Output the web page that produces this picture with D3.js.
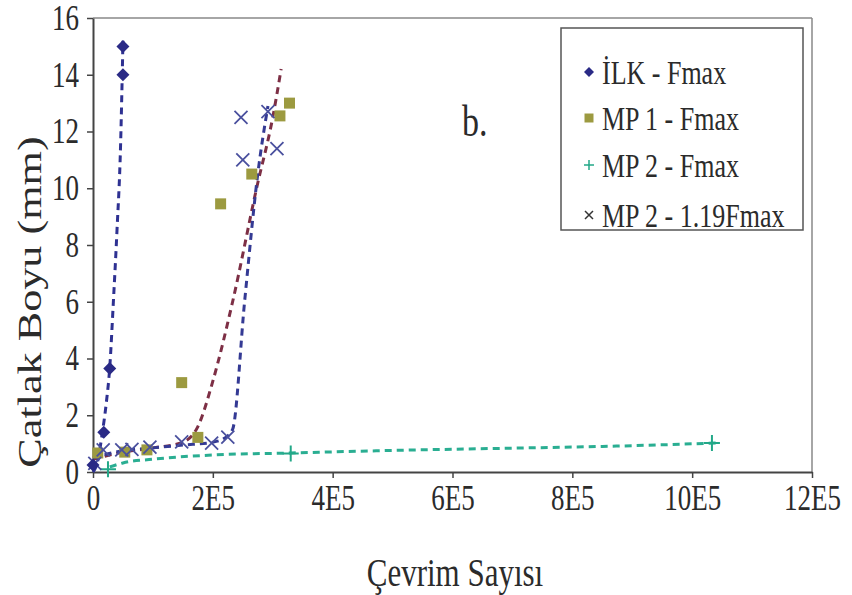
<!DOCTYPE html>
<html>
<head>
<meta charset="utf-8">
<style>
  body { margin: 0; background: #fff; }
  text { font-family: "Liberation Serif", "Times New Roman", serif; fill: #2b2b2b; }
  .st { transform-box: fill-box; transform-origin: center; transform: scaleY(1.3); }
</style>
</head>
<body>
<div id="chart"></div>
<script src="https://d3js.org/d3.v7.min.js"></script>
<script>
// data (x = cycles, y = crack length mm)
var ilkX = [0, 1.8e4, 2.8e4, 5.0e4, 5.0e4];
var ilkY = [0.25, 1.4, 3.65, 14.0, 15.0];

var mp1X = [0.8e4, 5.3e4, 9.0e4, 1.48e5, 1.75e5, 2.13e5, 2.65e5, 3.12e5, 3.28e5];
var mp1Y = [0.67, 0.7, 0.78, 3.15, 1.22, 9.45, 10.5, 12.55, 13.0];

var mp2X = [2.5e4, 3.3e5, 10.33e5];
var mp2Y = [0.1, 0.65, 1.02];

var mp2bX = [0.3e4, 1.7e4, 4.8e4, 6.5e4, 9.5e4, 1.48e5, 1.98e5, 2.25e5, 2.47e5, 2.5e5, 2.92e5, 3.07e5];
var mp2bY = [0.3, 0.78, 0.78, 0.8, 0.88, 1.06, 1.02, 1.23, 12.5, 11.0, 12.7, 11.4];

// trend lines (also)
var ilkTrendX = [0, 0.8e4, 1.5e4, 2.2e4, 2.8e4, 3.4e4, 4.0e4, 4.6e4, 5.0e4];
var ilkTrendY = [0, 0.4, 1.3, 2.4, 3.7, 6.0, 8.5, 11.5, 15.2];
var mp1TrendX = [0, 5e4, 1e5, 1.5e5, 1.75e5, 2.0e5, 2.33e5, 2.73e5, 3.0e5, 3.14e5];
var mp1TrendY = [0.45, 0.7, 0.85, 1.05, 1.6, 3.2, 6.0, 10.0, 12.5, 14.2];
var mp2TrendX = [2.8e4, 5e4, 1e5, 2e5, 3.3e5, 5e5, 7e5, 8.5e5, 10.4e5];
var mp2TrendY = [0.18, 0.32, 0.45, 0.6, 0.67, 0.76, 0.84, 0.9, 1.02];
var mp2bTrendX = [0, 5e4, 1e5, 1.5e5, 2.0e5, 2.2e5, 2.33e5, 2.53e5, 2.75e5, 2.92e5];
var mp2bTrendY = [0.5, 0.75, 0.85, 0.95, 1.05, 1.2, 1.5, 6.0, 10.5, 12.9];

var xTicks = [0, 2e5, 4e5, 6e5, 8e5, 10e5, 12e5];
var xTickLabels = ["0", "2E5", "4E5", "6E5", "8E5", "10E5", "12E5"];
var yTicks = [0, 2, 4, 6, 8, 10, 12, 14, 16];
var legendNames = ["İLK - Fmax", "MP 1 - Fmax", "MP 2 - Fmax", "MP 2 - 1.19Fmax"];

var W = 852, H = 595;
var margin = {top: 18, right: 40, bottom: 123, left: 93};
var width = W - margin.left - margin.right;
var height = H - margin.top - margin.bottom;

var svg = d3.select("#chart").append("svg")
    .attr("width", W)
    .attr("height", H);
var g = svg.append("g").attr("transform", "translate(" + margin.left + "," + margin.top + ")");

var x = d3.scaleLinear().domain([0, 12e5]).range([0, width]);
var y = d3.scaleLinear().domain([0, 16]).range([height, 0]);

function zip(xs, ys) { return xs.map(function(v, i) { return [v, ys[i]]; }); }

// frame (top + right, grey)
g.append("line").attr("x1", 0).attr("x2", width).attr("y1", 0).attr("y2", 0)
    .attr("stroke", "#888").attr("stroke-width", 1.5);
g.append("line").attr("x1", width).attr("x2", width).attr("y1", 0).attr("y2", height)
    .attr("stroke", "#888").attr("stroke-width", 1.5);

// axes
var xAxis = g.append("g")
    .attr("transform", "translate(0," + height + ")")
    .call(d3.axisBottom(x).tickValues(xTicks).tickFormat(function(d, i) { return xTickLabels[i]; })
      .tickSize(6).tickSizeOuter(0).tickPadding(10));
var yAxis = g.append("g")
    .call(d3.axisLeft(y).tickValues(yTicks).tickSize(6).tickSizeOuter(0).tickPadding(8));

[xAxis, yAxis].forEach(function(a) {
  a.attr("font-family", null);
  a.select(".domain").attr("stroke", "#444").attr("stroke-width", 2);
  a.selectAll(".tick line").attr("stroke", "#444").attr("stroke-width", 1.5);
  a.selectAll(".tick text").attr("class", "st").style("font-size", "27px").attr("fill", "#2b2b2b");
});

// trend lines
var line = d3.line()
    .x(function(d) { return x(d[0]); })
    .y(function(d) { return y(d[1]); })
    .curve(d3.curveMonotoneX);

var trends = [
  {pts: zip(mp2TrendX, mp2TrendY), color: "#2aae92"},
  {pts: zip(mp1TrendX, mp1TrendY), color: "#7d2f45"},
  {pts: zip(mp2bTrendX, mp2bTrendY), color: "#343a94"},
  {pts: zip(ilkTrendX, ilkTrendY), color: "#2e3192"}
];
g.selectAll(".trend").data(trends).enter().append("path")
    .attr("class", "trend")
    .attr("d", function(d) { return line(d.pts); })
    .attr("fill", "none")
    .attr("stroke", function(d) { return d.color; })
    .attr("stroke-width", 3)
    .attr("stroke-dasharray", "7,5");

// markers
function diamondPath(s) { return "M0," + (-s) + "L" + s + ",0L0," + s + "L" + (-s) + ",0Z"; }
function squarePath(s) { return "M" + (-s) + "," + (-s) + "H" + s + "V" + s + "H" + (-s) + "Z"; }
function plusPath(s) { return "M" + (-s) + ",0H" + s + "M0," + (-s) + "V" + s; }
function crossPath(s) { return "M" + (-s) + "," + (-s) + "L" + s + "," + s + "M" + (-s) + "," + s + "L" + s + "," + (-s); }

g.selectAll(".mp1").data(zip(mp1X, mp1Y)).enter().append("path")
    .attr("transform", function(d) { return "translate(" + x(d[0]) + "," + y(d[1]) + ")"; })
    .attr("d", squarePath(5.5))
    .attr("fill", "#9c9a40");

g.selectAll(".mp2").data(zip(mp2X, mp2Y)).enter().append("path")
    .attr("transform", function(d) { return "translate(" + x(d[0]) + "," + y(d[1]) + ")"; })
    .attr("d", plusPath(8))
    .attr("stroke", "#23a888").attr("stroke-width", 2);

g.selectAll(".mp2b").data(zip(mp2bX, mp2bY)).enter().append("path")
    .attr("transform", function(d) { return "translate(" + x(d[0]) + "," + y(d[1]) + ")"; })
    .attr("d", crossPath(6.5))
    .attr("stroke", "#4a509e").attr("stroke-width", 1.8);

g.selectAll(".ilk").data(zip(ilkX, ilkY)).enter().append("path")
    .attr("transform", function(d) { return "translate(" + x(d[0]) + "," + y(d[1]) + ")"; })
    .attr("d", diamondPath(6.5))
    .attr("fill", "#2a2a86");

// "b." label
svg.append("text").attr("class", "st")
    .attr("x", 462).attr("y", 133)
    .style("font-size", "34px")
    .text("b.");

// axis titles
svg.append("text").attr("class", "st")
    .attr("x", 455).attr("y", 583)
    .attr("text-anchor", "middle")
    .style("font-size", "31px")
    .text("Çevrim Sayısı");

svg.append("g")
    .attr("transform", "translate(41,302) rotate(-90) scale(1.3,1)")
  .append("text")
    .attr("text-anchor", "middle")
    .style("font-size", "34px")
    .text("Çatlak Boyu (mm)");

// legend
var lg = svg.append("g");
lg.append("rect")
    .attr("x", 561).attr("y", 28).attr("width", 242).attr("height", 202)
    .attr("fill", "#fff").attr("stroke", "#555").attr("stroke-width", 1.5);

var ly = [72, 118, 165, 215];
var items = lg.selectAll(".li").data(legendNames).enter().append("g")
    .attr("transform", function(d, i) { return "translate(589," + ly[i] + ")"; });

items.append("text").attr("class", "st")
    .attr("x", 13).attr("dy", "0.35em")
    .style("font-size", "26px")
    .text(function(d) { return d; });

items.filter(function(d, i) { return i === 0; }).append("path")
    .attr("d", diamondPath(5)).attr("fill", "#2a2a86");
items.filter(function(d, i) { return i === 1; }).append("path")
    .attr("d", squarePath(4.5)).attr("fill", "#9c9a40");
items.filter(function(d, i) { return i === 2; }).append("path")
    .attr("d", plusPath(5)).attr("stroke", "#23a888").attr("stroke-width", 1.5);
items.filter(function(d, i) { return i === 3; }).append("path")
    .attr("d", crossPath(4)).attr("stroke", "#333").attr("stroke-width", 1.5);
</script>
</body>
</html>
